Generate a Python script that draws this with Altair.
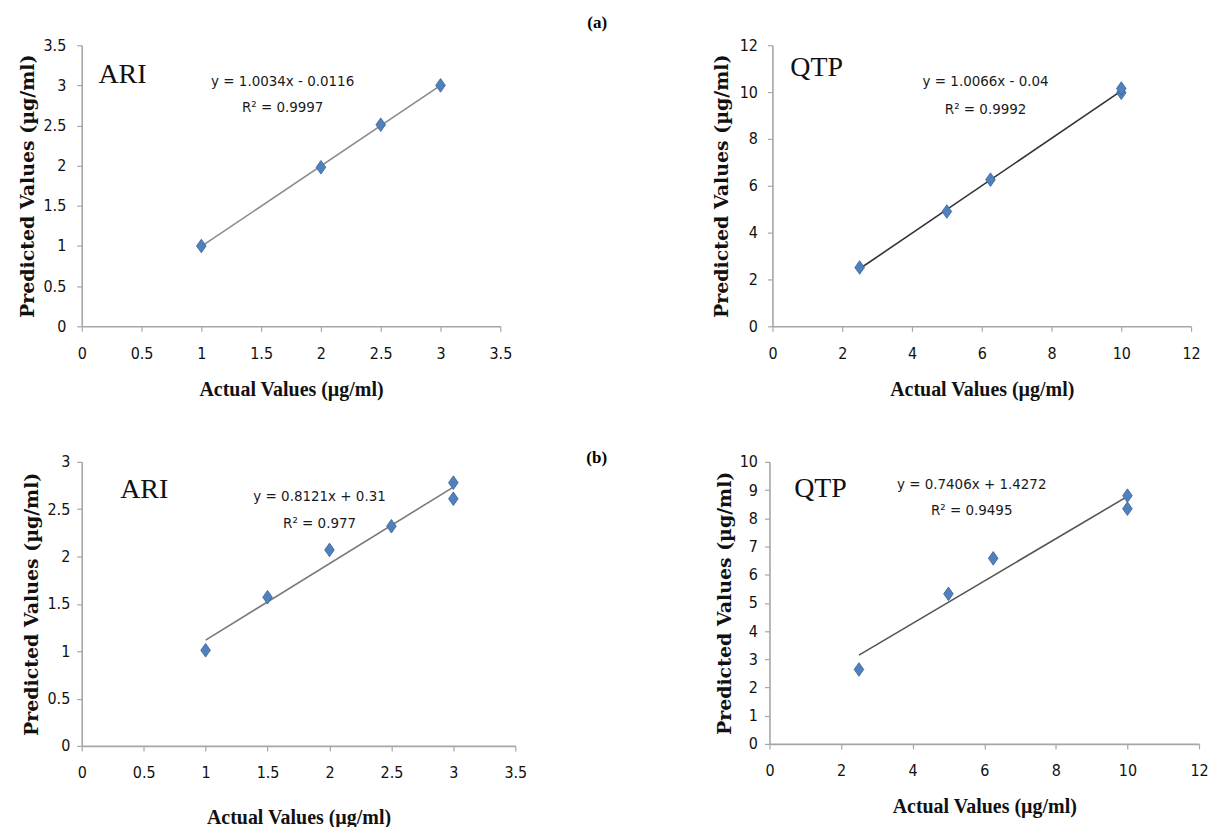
import altair as alt
import pandas as pd

# ---------------- data ----------------
# (a) ARI
ari_a_actual = [1, 2, 2.5, 3]
ari_a_pred = [1.00, 1.98, 2.51, 3.00]
# (a) QTP
qtp_a_actual = [2.5, 5, 6.25, 10, 10]
qtp_a_pred = [2.51, 4.90, 6.26, 9.97, 10.15]
# (b) ARI
ari_b_actual = [1, 1.5, 2, 2.5, 3, 3]
ari_b_pred = [1.01, 1.57, 2.07, 2.32, 2.61, 2.78]
# (b) QTP
qtp_b_actual = [2.5, 5, 6.25, 10, 10]
qtp_b_pred = [2.64, 5.32, 6.58, 8.34, 8.80]

ari_ticks = [0, 0.5, 1, 1.5, 2, 2.5, 3, 3.5]
ari_b_yticks = [0, 0.5, 1, 1.5, 2, 2.5, 3]
qtp_ticks = [0, 2, 4, 6, 8, 10, 12]
qtp_b_yticks = [0, 1, 2, 3, 4, 5, 6, 7, 8, 9, 10]

equations = ["y = 1.0034x - 0.0116", "y = 1.0066x - 0.04",
             "y = 0.8121x + 0.31", "y = 0.7406x + 1.4272"]
r_squared = ["R² = 0.9997", "R² = 0.9992", "R² = 0.977", "R² = 0.9495"]
drug_names = ["ARI", "QTP", "ARI", "QTP"]

# annotation anchors in data units: [name_x, name_y, eq_x, eq_y, r2_y]
annot_a_ari = [0.14, 3.03, 1.68, 3.06, 2.73]
annot_a_qtp = [0.51, 10.68, 6.11, 10.47, 9.28]
annot_b_ari = [0.31, 2.62, 1.92, 2.64, 2.35]
annot_b_qtp = [0.69, 8.77, 5.65, 9.22, 8.30]

X_TITLE = "Actual Values (µg/ml)"
Y_TITLE = "Predicted Values (µg/ml)"

NARROW = "DejaVu Sans Condensed, Liberation Sans Narrow, sans-serif"
SERIF = "Liberation Serif, Times New Roman, serif"
WIDE_SERIF = "DejaVu Serif, Liberation Serif, serif"
AXIS_GRAY = "#a6a6a6"
DIAMOND = "M0,-1.2L0.85,0L0,1.2L-0.85,0Z"


def panel(actual, pred, xticks, yticks, w, h, idx, annot, line_color,
          ylab_pad, ytitle_pad, xlab_pad=14, xtitle_pad=18):
    df = pd.DataFrame({"actual": actual, "pred": pred})
    xs = alt.Scale(domain=[xticks[0], xticks[-1]], nice=False, zero=False)
    ys = alt.Scale(domain=[yticks[0], yticks[-1]], nice=False, zero=False)
    common = dict(
        domainColor=AXIS_GRAY, domainWidth=1.6, tickColor=AXIS_GRAY,
        tickWidth=1.2, tickSize=5, grid=False,
        labelFont=NARROW, labelFontSize=16, labelColor="#111111",
        titleFontWeight="bold", titleColor="#111111",
        format="~f", labelOverlap=False,
    )
    xaxis = alt.Axis(values=xticks, title=X_TITLE, titleFont=SERIF,
                     titleFontSize=20, labelPadding=xlab_pad,
                     titlePadding=xtitle_pad, labelFlush=False, **common)
    yaxis = alt.Axis(values=yticks, title=Y_TITLE, titleFont=WIDE_SERIF,
                     titleFontSize=19, labelPadding=ylab_pad,
                     titlePadding=ytitle_pad, **common)

    x = alt.X("actual:Q", scale=xs, axis=xaxis)
    y = alt.Y("pred:Q", scale=ys, axis=yaxis)

    line = alt.Chart(df).mark_line(color=line_color, strokeWidth=1.6).encode(
        x=x, y=y
    ).transform_regression("actual", "pred")

    pts = alt.Chart(df).mark_point(
        shape=DIAMOND, filled=True, size=130, color="#4F81BD",
        stroke="#3A6496", strokeWidth=0.8, opacity=1
    ).encode(x=x, y=y)

    name_df = pd.DataFrame({"actual": [annot[0]], "pred": [annot[1]],
                            "t": [drug_names[idx]]})
    name = alt.Chart(name_df).mark_text(
        font=SERIF, fontSize=28, align="left", baseline="alphabetic",
        color="#111111"
    ).encode(x=x, y=y, text="t:N")

    eq_df = pd.DataFrame({"actual": [annot[2], annot[2]],
                          "pred": [annot[3], annot[4]],
                          "t": [equations[idx], r_squared[idx]]})
    eq = alt.Chart(eq_df).mark_text(
        font=NARROW, fontSize=15, align="center", baseline="middle",
        color="#1a1a1a"
    ).encode(x=x, y=y, text="t:N")

    return alt.layer(line, pts, name, eq).properties(width=w, height=h)


p1 = panel(ari_a_actual, ari_a_pred, ari_ticks, ari_ticks, 420, 282, 0,
           annot_a_ari, "#8c8c8c", ylab_pad=11, ytitle_pad=6)
p2 = panel(qtp_a_actual, qtp_a_pred, qtp_ticks, qtp_ticks, 420, 282, 1,
           annot_a_qtp, "#333333", ylab_pad=10, ytitle_pad=8)
p3 = panel(ari_b_actual, ari_b_pred, ari_ticks, ari_b_yticks, 435, 285, 2,
           annot_b_ari, "#7a7a7a", ylab_pad=7, ytitle_pad=5, xtitle_pad=27)
p4 = panel(qtp_b_actual, qtp_b_pred, qtp_ticks, qtp_b_yticks, 431, 283, 3,
           annot_b_qtp, "#555555", ylab_pad=7, ytitle_pad=5)

row_a = alt.hconcat(
    p1, p2, spacing=200,
    title=alt.Title("(a)", font=SERIF, fontSize=17, fontWeight="bold",
                    color="#000000", anchor="middle", offset=5, dx=-12),
)
row_b = alt.hconcat(
    p3, p4, spacing=188,
    title=alt.Title("(b)", font=SERIF, fontSize=17, fontWeight="bold",
                    color="#000000", anchor="middle", offset=-13, dx=-19),
)

chart = alt.vconcat(row_a, row_b, spacing=50).properties(
    padding={"left": 18, "top": 13, "right": 0, "bottom": 0},
    background="white",
).configure_view(stroke=None)

chart.save("out.html", embed_options={"renderer": "svg", "actions": False})
